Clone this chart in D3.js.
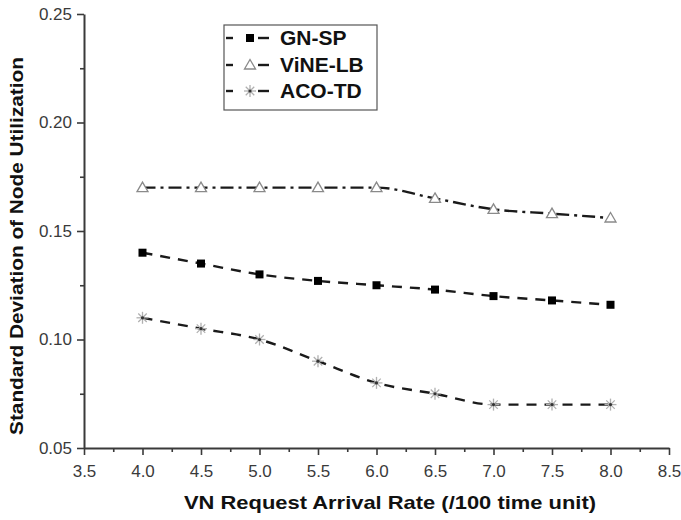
<!DOCTYPE html>
<html><head><meta charset="utf-8">
<script src="https://cdn.jsdelivr.net/npm/d3@7"></script>
<style>
html,body{margin:0;padding:0;background:#fff;}
svg{display:block;}
text{font-family:"Liberation Sans",Arial,Helvetica,sans-serif;}
</style></head>
<body>
<svg id="chart" width="681" height="520"></svg>
<script>
const rates = [4.0, 4.5, 5.0, 5.5, 6.0, 6.5, 7.0, 7.5, 8.0];
const gnsp  = [0.140, 0.135, 0.130, 0.127, 0.125, 0.123, 0.120, 0.118, 0.116];
const vinelb = [0.170, 0.170, 0.170, 0.170, 0.170, 0.165, 0.160, 0.158, 0.156];
const acotd = [0.110, 0.105, 0.100, 0.090, 0.080, 0.075, 0.070, 0.070, 0.070];
const seriesNames = ["GN-SP", "ViNE-LB", "ACO-TD"];
const xTicks = [3.5, 4.0, 4.5, 5.0, 5.5, 6.0, 6.5, 7.0, 7.5, 8.0, 8.5];
const yTicks = [0.05, 0.10, 0.15, 0.20, 0.25];
const xLabel = "VN Request Arrival Rate (/100 time unit)";
const yLabel = "Standard Deviation of Node Utilization";

const svg = d3.select("#chart");
const x = d3.scaleLinear().domain([3.5, 8.5]).range([84, 669]);
const y = d3.scaleLinear().domain([0.05, 0.25]).range([448, 14]);

const axisColor = "#3a3a3a";
function styleAxis(g){
  g.select(".domain").attr("stroke", axisColor).attr("stroke-width", 2);
  g.selectAll(".tick line").attr("stroke", axisColor).attr("stroke-width", 1.6);
  g.selectAll("text").attr("fill", "#3a3a3a").attr("font-size", 17)
    .attr("font-family", "'Liberation Sans', Arial, sans-serif");
}
// minor ticks
const xMinor = d3.range(3.75, 8.5, 0.5);
const yMinor = d3.range(0.075, 0.25, 0.05);
svg.append("g").attr("transform", "translate(0,448)")
  .call(d3.axisBottom(x).tickValues(xMinor).tickSize(4).tickFormat(""))
  .call(g => { g.select(".domain").remove(); g.selectAll(".tick line").attr("stroke", axisColor).attr("stroke-width", 1.6); });
svg.append("g").attr("transform", "translate(84,0)")
  .call(d3.axisLeft(y).tickValues(yMinor).tickSize(4).tickFormat(""))
  .call(g => { g.select(".domain").remove(); g.selectAll(".tick line").attr("stroke", axisColor).attr("stroke-width", 1.6); });

svg.append("g").attr("transform", "translate(0,448)")
  .call(d3.axisBottom(x).tickValues(xTicks).tickSize(7).tickSizeOuter(0).tickPadding(10).tickFormat(d3.format(".1f")))
  .call(styleAxis);
svg.append("g").attr("transform", "translate(84,0)")
  .call(d3.axisLeft(y).tickValues(yTicks).tickSize(7).tickSizeOuter(0).tickPadding(5).tickFormat(d3.format(".2f")))
  .call(styleAxis);

// titles
svg.append("text").attr("x", 390).attr("y", 509).attr("text-anchor", "middle")
  .attr("font-size", 19).attr("font-weight", "bold").attr("fill", "#111")
  .attr("textLength", 412).attr("lengthAdjust", "spacingAndGlyphs").text(xLabel);
svg.append("text").attr("transform", "translate(23,246) rotate(-90)").attr("text-anchor", "middle")
  .attr("font-size", 19).attr("font-weight", "bold").attr("fill", "#111")
  .attr("textLength", 378).attr("lengthAdjust", "spacingAndGlyphs").text(yLabel);

const styles = [
  {data: gnsp, dash: "10,8", marker: "square"},
  {data: vinelb, dash: "13,5,3,5", marker: "triangle"},
  {data: acotd, dash: "10,8", marker: "star"}
];
const line = d3.line().x(d => x(d[0])).y(d => y(d[1])).curve(d3.curveMonotoneX);

function drawMarker(g, type, cx, cy){
  if (type === "square") {
    g.append("rect").attr("x", cx - 4).attr("y", cy - 4).attr("width", 8).attr("height", 8).attr("fill", "#000");
  } else if (type === "triangle") {
    g.append("path").attr("d", `M${cx},${cy-5.5}L${cx+5.5},${cy+4}L${cx-5.5},${cy+4}Z`)
      .attr("fill", "#fff").attr("stroke", "#8a8a8a").attr("stroke-width", 1.3);
  } else {
    const r = 6;
    const sg = g.append("g").attr("stroke", "#b0b0b0").attr("stroke-width", 1.3);
    [0, 45, 90, 135].forEach(a => {
      const rad = a * Math.PI / 180;
      sg.append("line").attr("x1", cx - r * Math.cos(rad)).attr("y1", cy - r * Math.sin(rad))
        .attr("x2", cx + r * Math.cos(rad)).attr("y2", cy + r * Math.sin(rad));
    });
    g.append("circle").attr("cx", cx).attr("cy", cy).attr("r", 1.6).attr("fill", "#333");
  }
}

styles.forEach(s => {
  const pts = rates.map((r, i) => [r, s.data[i]]);
  svg.append("path").datum(pts).attr("d", line).attr("fill", "none")
    .attr("stroke", "#1a1a1a").attr("stroke-width", 2.4).attr("stroke-dasharray", s.dash);
  const mg = svg.append("g");
  pts.forEach(p => drawMarker(mg, s.marker, x(p[0]), y(p[1])));
});

// legend
const lg = svg.append("g");
lg.append("rect").attr("x", 224).attr("y", 25).attr("width", 153).attr("height", 85)
  .attr("fill", "#fff").attr("stroke", "#555").attr("stroke-width", 1.2);
const rowsY = [38, 65, 91];
styles.forEach((s, i) => {
  const cy = rowsY[i];
  lg.append("line").attr("x1", 226).attr("x2", 233).attr("y1", cy).attr("y2", cy).attr("stroke", "#1a1a1a").attr("stroke-width", 2.4);
  lg.append("line").attr("x1", 258).attr("x2", 269).attr("y1", cy).attr("y2", cy).attr("stroke", "#1a1a1a").attr("stroke-width", 2.4);
  drawMarker(lg, s.marker, 250, cy);
  lg.append("text").attr("x", 280).attr("y", cy + 7).attr("font-size", 21).attr("font-weight", "bold")
    .attr("fill", "#111").text(seriesNames[i]);
});
</script>
</body></html>
